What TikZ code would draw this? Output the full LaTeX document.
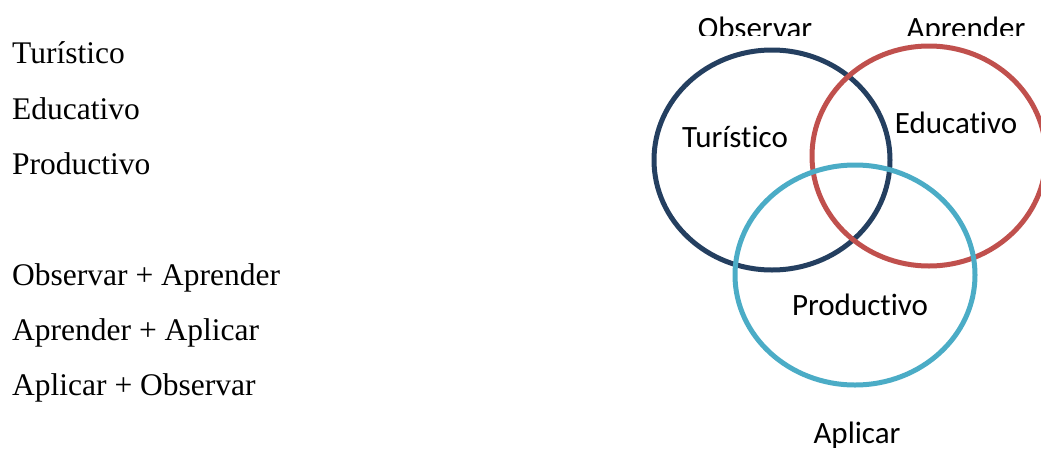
\documentclass[tikz,border=0pt]{standalone}
\usepackage{fontspec}
\setmainfont{Liberation Serif}
\newfontfamily\labelfont[Ligatures=NoCommon]{Carlito}
\definecolor{obsblue}{HTML}{243F60}
\definecolor{aprred}{HTML}{C0504D}
\definecolor{aplcyan}{HTML}{4BACC6}
\tikzset{
  listtext/.style={anchor=base west, inner sep=0pt, font=\fontsize{31.5}{38}\selectfont},
  venntext/.style={anchor=base, inner sep=0pt, font=\labelfont\fontsize{31}{37}\selectfont},
  ring/.style={line width=5pt}
}
\begin{document}
\begin{tikzpicture}[x=1pt,y=-1pt]
  \useasboundingbox (0,0) rectangle (1041,450);
  % list on the left
  \node[listtext] (tur)  at (12,63)  {Turístico};
  \node[listtext] (edu)  at (12,119) {Educativo};
  \node[listtext] (pro)  at (12,174) {Productivo};
  \node[listtext] (oa)   at (12,285) {Observar + Aprender};
  \node[listtext] (aa)   at (12,340) {Aprender + Aplicar};
  \node[listtext] (ao)   at (12,395) {Aplicar + Observar};
  % venn rings
  \begin{scope}
    \clip (0,0) rectangle (1041,450);
    \draw[ring,obsblue]  (772,160) ellipse [x radius=118, y radius=110];
    \draw[ring,aprred]   (929,156) ellipse [x radius=117, y radius=110];
    \draw[ring,aplcyan]  (855,275) ellipse [x radius=120, y radius=110];
  \end{scope}
  \node[venntext] (vtur) at (735,147) {Turístico};
  \node[venntext] (vedu) at (956,133) {Educativo};
  \node[venntext] (vpro) at (860,315) {Productivo};
  \node[venntext] (apl)  at (857,443) {Aplicar};
  % top labels, cut off below
  \begin{scope}
    \clip (600,0) rectangle (1041,35);
    \node[venntext] (obs) at (755,38) {Observar};
    \node[venntext] (apr) at (966,38) {Aprender};
  \end{scope}
\end{tikzpicture}
\end{document}
